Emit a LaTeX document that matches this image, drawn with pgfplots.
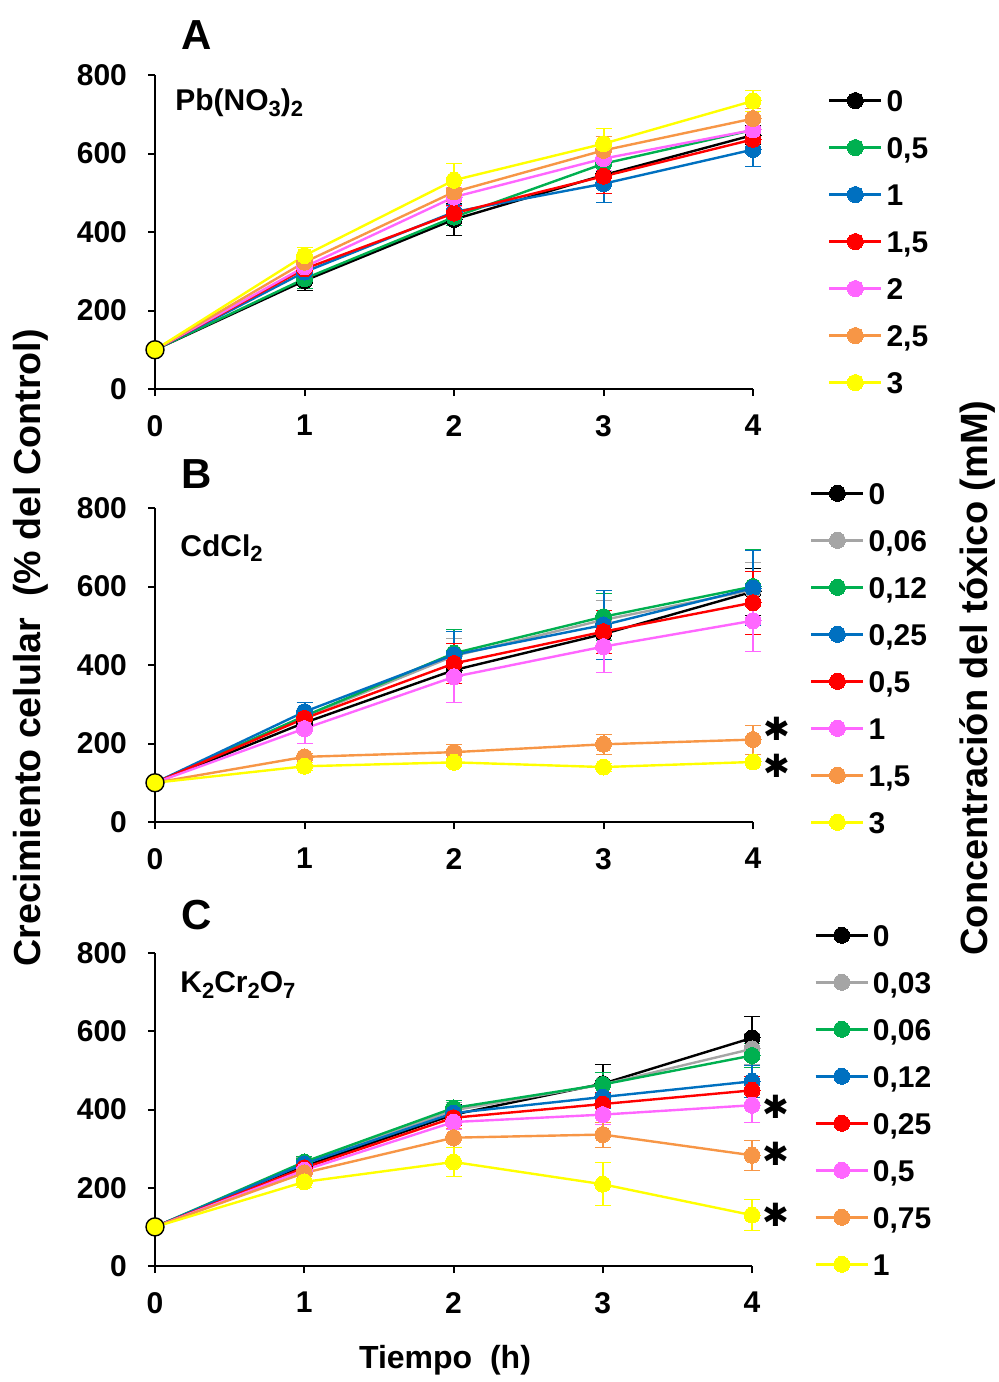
\documentclass[border=0pt]{standalone}
\usepackage{fontspec}
\setmainfont{Liberation Sans}
\newfontfamily\symfont{DejaVu Sans}
\usepackage{pgfplots}
\pgfplotsset{compat=1.18}

\definecolor{cblack}{HTML}{000000}
\definecolor{cgray}{HTML}{A5A5A5}
\definecolor{cgreen}{HTML}{00B050}
\definecolor{cblue}{HTML}{0070C0}
\definecolor{cred}{HTML}{FF0000}
\definecolor{cpink}{HTML}{FF66FF}
\definecolor{corange}{HTML}{F79646}
\definecolor{cyellow}{HTML}{FFFF00}

\newcommand{\bigf}{\fontsize{15}{18}\selectfont\bfseries}
\newcommand{\sub}[1]{\raisebox{-0.35ex}{\fontsize{11}{11}\selectfont #1}}

\tikzset{star/.style={font=\symfont\fontsize{16}{16}\selectfont, xshift=12pt}}

\pgfplotsset{
  ser/.style={color=#1, line width=1.2pt, mark=*, mark size=4pt,
    mark options={draw=#1, fill=#1, line width=0pt},
    error bars/.cd, y dir=both, y explicit,
    error bar style={line width=1pt, #1}},
  panel/.style={
    scale only axis, width=299pt, height=157pt,
    xmin=0, xmax=4, ymin=0, ymax=800,
    xtick={0,1,2,3,4}, ytick={0,200,400,600,800},
    axis lines=left, axis line style={-, line width=1pt},
    tick align=outside, major tick length=3.5pt,
    tick style={line width=1pt, black},
    /pgf/number format/assume math mode=true,
    ticklabel style={font=\bigf},
    xticklabel style={yshift=-6pt},
    yticklabel style={xshift=-7pt},
    clip=false,
    legend cell align=left,
    legend image code/.code={\draw[##1, mark repeat=2, mark phase=2] plot coordinates {(0pt,0pt)(13pt,0pt)(26pt,0pt)};},
    legend style={draw=none, fill=none, inner sep=0pt, anchor=north west,
      row sep=12.2pt, column sep=2pt, font=\bigf,
      nodes={inner sep=0pt, text height=11pt, text depth=0.3pt}},
  },
}

\begin{document}
\begin{tikzpicture}
\useasboundingbox (0,0) rectangle (499pt,-691pt);

% ---------------- A: Pb(NO3)2
\begin{axis}[panel, at={(77.5pt,-194.5pt)}, anchor=south west,
  legend style={at={(axis description cs:1.125,0.956)}}]
\addplot[ser=cblack] coordinates {(0,100) +- (0,0) (1,276) +- (0,25) (2,432) +- (0,40) (3,545) +- (0,30) (4,647) +- (0,25)};
\addlegendentry{0}
\addplot[ser=cgreen] coordinates {(0,100) +- (0,0) (1,281) +- (0,25) (2,438) +- (0,20) (3,574) +- (0,30) (4,660) +- (0,20)};
\addlegendentry{0,5}
\addplot[ser=cblue] coordinates {(0,100) +- (0,0) (1,298) +- (0,20) (2,451) +- (0,20) (3,523) +- (0,48) (4,610) +- (0,43)};
\addlegendentry{1}
\addplot[ser=cred] coordinates {(0,100) +- (0,0) (1,306) +- (0,20) (2,448) +- (0,20) (3,542) +- (0,44) (4,636) +- (0,25)};
\addlegendentry{1,5}
\addplot[ser=cpink] coordinates {(0,100) +- (0,0) (1,311) +- (0,20) (2,489) +- (0,25) (3,587) +- (0,30) (4,660) +- (0,25)};
\addlegendentry{2}
\addplot[ser=corange] coordinates {(0,100) +- (0,0) (1,323) +- (0,20) (2,502) +- (0,25) (3,608) +- (0,35) (4,689) +- (0,25)};
\addlegendentry{2,5}
\addplot[ser=cyellow] coordinates {(0,100) +- (0,0) (1,340) +- (0,20) (2,532) +- (0,44) (3,625) +- (0,38) (4,734) +- (0,27)};
\addlegendentry{3}
\addplot[only marks, mark=*, mark size=4.5pt, mark options={fill=cyellow, draw=black, line width=0.7pt}, forget plot] coordinates {(0,100)};
\end{axis}

% ---------------- B: CdCl2
\begin{axis}[panel, at={(77.5pt,-411pt)}, anchor=south west,
  legend style={at={(axis description cs:1.095,1.084)}}]
\addplot[ser=cblack] coordinates {(0,100) +- (0,0) (1,253) +- (0,20) (2,387) +- (0,35) (3,479) +- (0,40) (4,587) +- (0,60)};
\addlegendentry{0}
\addplot[ser=cgray] coordinates {(0,100) +- (0,0) (1,268) +- (0,20) (2,423) +- (0,45) (3,515) +- (0,50) (4,591) +- (0,70)};
\addlegendentry{0,06}
\addplot[ser=cgreen] coordinates {(0,100) +- (0,0) (1,270) +- (0,20) (2,430) +- (0,60) (3,523) +- (0,60) (4,600) +- (0,95)};
\addlegendentry{0,12}
\addplot[ser=cblue] coordinates {(0,100) +- (0,0) (1,281) +- (0,24) (2,426) +- (0,60) (3,502) +- (0,87) (4,596) +- (0,95)};
\addlegendentry{0,25}
\addplot[ser=cred] coordinates {(0,100) +- (0,0) (1,264) +- (0,20) (2,404) +- (0,50) (3,485) +- (0,55) (4,559) +- (0,80)};
\addlegendentry{0,5}
\addplot[ser=cpink] coordinates {(0,100) +- (0,0) (1,238) +- (0,38) (2,370) +- (0,64) (3,447) +- (0,66) (4,513) +- (0,78)};
\addlegendentry{1}
\addplot[ser=corange] coordinates {(0,100) +- (0,0) (1,166) +- (0,10) (2,178) +- (0,20) (3,198) +- (0,25) (4,210) +- (0,37)};
\addlegendentry{1,5}
\addplot[ser=cyellow] coordinates {(0,100) +- (0,0) (1,142) +- (0,10) (2,152) +- (0,10) (3,140) +- (0,10) (4,153) +- (0,10)};
\addlegendentry{3}
\addplot[only marks, mark=*, mark size=4.5pt, mark options={fill=cyellow, draw=black, line width=0.7pt}, forget plot] coordinates {(0,100)};
\node[star] at (axis cs:4,237) {✱};
\node[star] at (axis cs:4,143) {✱};
\end{axis}

% ---------------- C: K2Cr2O7
\begin{axis}[panel, at={(77.5pt,-633pt)}, anchor=south west, width=298.5pt, height=156.5pt,
  legend style={at={(axis description cs:1.104,1.094)}}]
\addplot[ser=cblack] coordinates {(0,100) +- (0,0) (1,255) +- (0,15) (2,387) +- (0,25) (3,466) +- (0,50) (4,583) +- (0,55)};
\addlegendentry{0}
\addplot[ser=cgray] coordinates {(0,100) +- (0,0) (1,262) +- (0,15) (2,398) +- (0,20) (3,464) +- (0,30) (4,555) +- (0,40)};
\addlegendentry{0,03}
\addplot[ser=cgreen] coordinates {(0,100) +- (0,0) (1,266) +- (0,15) (2,404) +- (0,20) (3,464) +- (0,30) (4,538) +- (0,30)};
\addlegendentry{0,06}
\addplot[ser=cblue] coordinates {(0,100) +- (0,0) (1,261) +- (0,15) (2,391) +- (0,20) (3,432) +- (0,30) (4,472) +- (0,40)};
\addlegendentry{0,12}
\addplot[ser=cred] coordinates {(0,100) +- (0,0) (1,251) +- (0,15) (2,379) +- (0,20) (3,414) +- (0,30) (4,449) +- (0,35)};
\addlegendentry{0,25}
\addplot[ser=cpink] coordinates {(0,100) +- (0,0) (1,245) +- (0,15) (2,368) +- (0,20) (3,387) +- (0,25) (4,411) +- (0,43)};
\addlegendentry{0,5}
\addplot[ser=corange] coordinates {(0,100) +- (0,0) (1,238) +- (0,15) (2,328) +- (0,25) (3,336) +- (0,32) (4,283) +- (0,38)};
\addlegendentry{0,75}
\addplot[ser=cyellow] coordinates {(0,100) +- (0,0) (1,215) +- (0,15) (2,266) +- (0,37) (3,209) +- (0,55) (4,130) +- (0,40)};
\addlegendentry{1}
\addplot[only marks, mark=*, mark size=4.5pt, mark options={fill=cyellow, draw=black, line width=0.7pt}, forget plot] coordinates {(0,100)};
\node[star] at (axis cs:4,408) {✱};
\node[star] at (axis cs:4,288) {✱};
\node[star] at (axis cs:4,130) {✱};
\end{axis}

% ---------------- titles and labels
\node[font=\fontsize{21}{24}\selectfont\bfseries] at (98.5pt,-17.5pt) {A};
\node[font=\fontsize{21}{24}\selectfont\bfseries] at (98.5pt,-237pt) {B};
\node[font=\fontsize{21}{24}\selectfont\bfseries] at (98.5pt,-457.5pt) {C};
\node[anchor=west, inner sep=0pt, font=\fontsize{15}{17}\selectfont\bfseries] at (87.5pt,-51.5pt) {Pb(NO\sub{3})\sub{2}};
\node[anchor=west, inner sep=0pt, font=\fontsize{15}{17}\selectfont\bfseries] at (90pt,-274pt) {CdCl\sub{2}};
\node[anchor=west, inner sep=0pt, font=\fontsize{15}{17}\selectfont\bfseries] at (90pt,-492.5pt) {K\sub{2}Cr\sub{2}O\sub{7}};
\node[rotate=90, font=\fontsize{18.8}{21}\selectfont\bfseries] at (15.5pt,-324pt) {Crecimiento celular\ \ (\% del Control)};
\node[rotate=90, font=\fontsize{19}{21}\selectfont\bfseries] at (488.5pt,-339pt) {Concentración del tóxico (mM)};
\node[font=\fontsize{16}{19}\selectfont\bfseries] at (222.5pt,-680pt) {Tiempo\ \ (h)};
\end{tikzpicture}
\end{document}
